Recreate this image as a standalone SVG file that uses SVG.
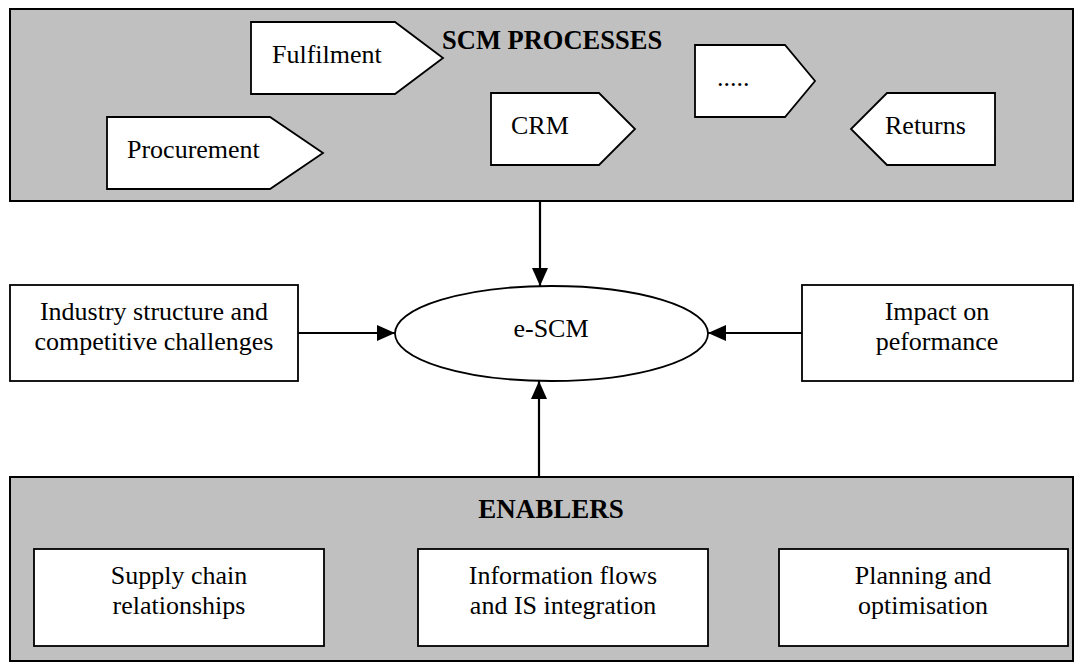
<svg xmlns="http://www.w3.org/2000/svg" width="1083" height="668" viewBox="0 0 1083 668">
<defs>
<style>
.panel{fill:#c0c0c0;stroke:#000;stroke-width:2}
.shape{fill:#fff;stroke:#000;stroke-width:1.8}
.t{font-family:"Liberation Serif","Times New Roman",serif;font-size:26px;fill:#000}
.c{text-anchor:middle}
.b{font-weight:bold}
.conn{stroke:#000;stroke-width:2.2;fill:none}
</style>
<marker id="ah" markerUnits="userSpaceOnUse" markerWidth="18" markerHeight="18" viewBox="0 0 18 16" refX="18" refY="8" orient="auto">
<path d="M0,0 L18,8 L0,16 Z" fill="#000"/>
</marker>
</defs>
<rect width="1083" height="668" fill="#fff"/>
<g id="scm-processes">
<rect class="panel" x="10" y="9" width="1063" height="192"/>
<text class="t b" x="442" y="49" style="font-size:26.5px">SCM PROCESSES</text>
</g>
<g id="fulfilment">
<path class="shape" d="M251,22 H395 L443,58 L395,94 H251 Z"/>
<text class="t" x="272" y="63">Fulfilment</text>
</g>
<g id="procurement">
<path class="shape" d="M107,117 H270 L323,153 L270,189 H107 Z"/>
<text class="t" x="127" y="158">Procurement</text>
</g>
<g id="crm">
<path class="shape" d="M491,93 H599 L635,129 L599,165 H491 Z"/>
<text class="t" x="511" y="134">CRM</text>
</g>
<g id="more">
<path class="shape" d="M695,45 H785 L815,81 L785,117 H695 Z"/>
<text class="t" x="717" y="86">.....</text>
</g>
<g id="returns">
<path class="shape" d="M995,93 H887 L851,129 L887,165 H995 Z"/>
<text class="t" x="885" y="134">Returns</text>
</g>
<g id="industry">
<rect class="shape" x="10" y="285" width="288" height="96"/>
<text class="t c" x="154" y="320">Industry structure and</text>
<text class="t c" x="154" y="350">competitive challenges</text>
</g>
<g id="escm">
<ellipse class="shape" cx="551.5" cy="333.5" rx="156.5" ry="47.5"/>
<text class="t c" x="551" y="337">e-SCM</text>
</g>
<g id="impact">
<rect class="shape" x="802" y="285" width="271" height="96"/>
<text class="t c" x="937" y="320">Impact on</text>
<text class="t c" x="937" y="350">peformance</text>
</g>
<g id="enablers">
<rect class="panel" x="10" y="477" width="1063" height="184"/>
<text class="t c b" x="551" y="518" style="font-size:27px">ENABLERS</text>
</g>
<g id="supply-chain">
<rect class="shape" x="34" y="549" width="290" height="97"/>
<text class="t c" x="179" y="584">Supply chain</text>
<text class="t c" x="179" y="614">relationships</text>
</g>
<g id="information">
<rect class="shape" x="418" y="549" width="290" height="97"/>
<text class="t c" x="563" y="584">Information flows</text>
<text class="t c" x="563" y="614">and IS integration</text>
</g>
<g id="planning">
<rect class="shape" x="779" y="549" width="289" height="97"/>
<text class="t c" x="923" y="584">Planning and</text>
<text class="t c" x="923" y="614">optimisation</text>
</g>
<g id="connectors">
<line class="conn" x1="540" y1="201" x2="540" y2="286" marker-end="url(#ah)"/>
<line class="conn" x1="298" y1="333" x2="395" y2="333" marker-end="url(#ah)"/>
<line class="conn" x1="802" y1="333" x2="708" y2="333" marker-end="url(#ah)"/>
<line class="conn" x1="539" y1="477" x2="539" y2="381" marker-end="url(#ah)"/>
</g>
</svg>
